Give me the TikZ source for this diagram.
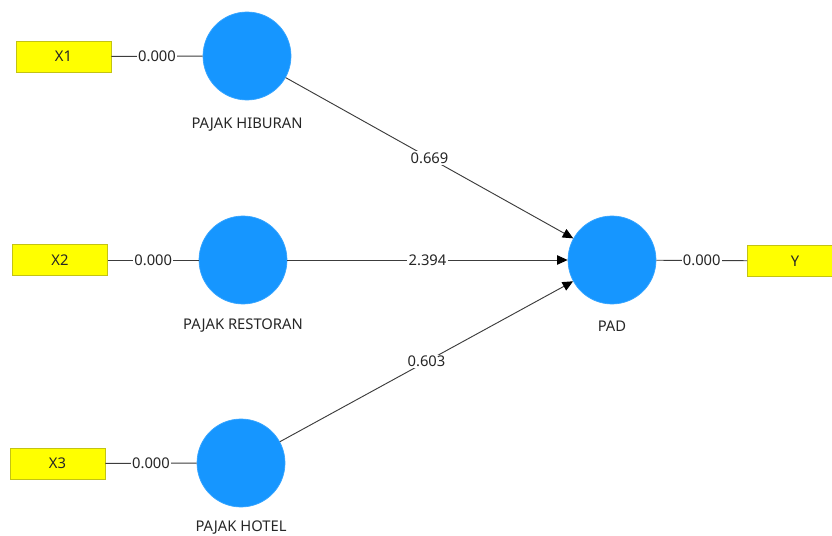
\documentclass[tikz,border=0pt]{standalone}
\usepackage{fontspec}
\setmainfont{Noto Sans}
\usetikzlibrary{arrows.meta}
\definecolor{lvblue}{RGB}{22,150,255}
\definecolor{mvyellow}{RGB}{255,255,0}
\definecolor{mvborder}{RGB}{195,195,20}
\definecolor{pathgray}{RGB}{60,60,60}

\begin{document}
\begin{tikzpicture}[x=0.03cm,y=-0.03cm,
    latent/.style={circle,fill=lvblue,draw=lvblue!85!white,line width=0.6pt,minimum size=2.64cm,inner sep=0pt},
    manifest/.style={rectangle,fill=mvyellow,draw=mvborder,line width=0.6pt,minimum width=2.85cm,minimum height=0.93cm,inner sep=0pt,text=black!85,font=\fontsize{12.6}{14}\selectfont},
    lvname/.style={text=black!85,font=\fontsize{12.6}{14}\selectfont},
    coef/.style={fill=white,inner sep=1pt,text=black!85,font=\fontsize{12.6}{14}\selectfont},
    outer/.style={draw=pathgray,line width=0.8pt},
    inner/.style={draw=pathgray,line width=0.8pt,-{Triangle[length=9pt,width=8pt,color=black]}}]
    \useasboundingbox (0,0) rectangle (832,536);
    % indicators
    \node[manifest] (x1) at (63.5,56.5) {X1};
    \node[manifest] (x2) at (60,260) {X2};
    \node[manifest] (x3) at (57.5,463.5) {X3};
    \node[manifest] (y) at (795,261) {Y};
    % constructs
    \node[latent] (hiburan) at (247,56) {};
    \node[latent] (restoran) at (243,260) {};
    \node[latent] (hotel) at (241,463) {};
    \node[latent] (pad) at (612,260) {};
    \node[lvname] (hiburanname) at (247,125) {PAJAK HIBURAN};
    \node[lvname] (restoranname) at (243,326) {PAJAK RESTORAN};
    \node[lvname] (hotelname) at (241,528) {PAJAK HOTEL};
    \node[lvname] (padname) at (612,326) {PAD};
    % outer model
    \path[outer] (x1) -- node[coef] (l1) {0.000} (hiburan);
    \path[outer] (x2) -- node[coef] (l2) {0.000} (restoran);
    \path[outer] (x3) -- node[coef] (l3) {0.000} (hotel);
    \path[outer] (pad) -- node[coef] (ly) {0.000} (y);
    % inner model
    \path[inner] (hiburan) -- node[coef] (p1) {0.669} (pad);
    \path[inner] (restoran) -- node[coef] (p2) {2.394} (pad);
    \path[inner] (hotel) -- node[coef] (p3) {0.603} (pad);
\end{tikzpicture}
\end{document}
